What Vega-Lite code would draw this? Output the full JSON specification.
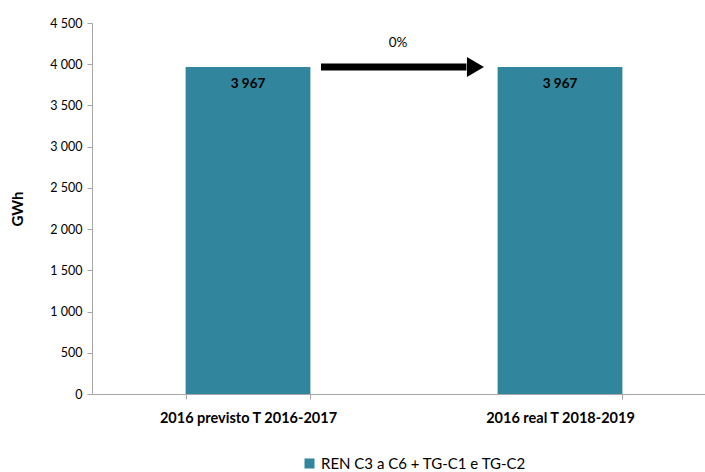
{
  "$schema": "https://vega.github.io/schema/vega-lite/v6.json",
  "autosize": "none",
  "width": 613,
  "height": 371,
  "padding": {"left": 92, "top": 23, "right": 0, "bottom": 78},
  "background": "white",
  "config": {
    "view": {"stroke": null},
    "font": "Lato",
    "locale": {"number": {"decimal": ",", "thousands": " ", "grouping": [3], "currency": ["", ""]}}
  },
  "resolve": {"scale": {"x": "independent"}, "axis": {"x": "independent"}},
  "layer": [
    {
      "data": {"values": [
        {"cat": "2016 previsto T 2016-2017", "value": 3967, "series": "REN C3 a C6 + TG-C1 e TG-C2"},
        {"cat": "2016 real T 2018-2019", "value": 3967, "series": "REN C3 a C6 + TG-C1 e TG-C2"}
      ]},
      "layer": [
        {
          "mark": {"type": "bar"},
          "encoding": {
            "x": {"field": "cat", "type": "nominal", "sort": null,
              "scale": {"range": [0, 624], "paddingInner": 0.6, "paddingOuter": 0.3},
              "axis": {"title": null, "labelAngle": 0, "labelFont": "Lato", "labelFontWeight": "bold", "labelFontSize": 14.5, "labelColor": "#000", "labelPadding": 12, "labelLimit": 0,
                "domainColor": "#a6a6a6", "tickColor": "#a6a6a6", "tickBand": "extent", "tickSize": 5, "grid": false}},
            "y": {"field": "value", "type": "quantitative",
              "scale": {"domain": [0, 4500], "nice": false},
              "axis": {"title": "GWh", "titleFont": "Lato", "titleFontWeight": "bold", "titleFontSize": 15, "titleColor": "#000", "titlePadding": 24,
                "values": [0, 500, 1000, 1500, 2000, 2500, 3000, 3500, 4000, 4500],
                "format": ",d", "labelFont": "Lato", "labelFontSize": 12.5, "labelColor": "#000", "labelPadding": 5,
                "domainColor": "#a6a6a6", "tickColor": "#a6a6a6", "tickSize": 5, "grid": false}},
            "color": {"field": "series", "type": "nominal",
              "scale": {"range": ["#31859C"]},
              "legend": {"title": null, "orient": "none", "legendX": 210, "legendY": 433, "symbolType": "square", "symbolSize": 100, "symbolStrokeWidth": 0, "labelFont": "Lato", "labelFontSize": 15, "labelColor": "#000", "labelOffset": 4, "labelLimit": 0}}
          }
        },
        {
          "mark": {"type": "text", "fontWeight": "bold", "fontSize": 13.5, "font": "Lato", "color": "#000", "baseline": "middle", "dy": 17},
          "encoding": {
            "x": {"field": "cat", "type": "nominal", "sort": null},
            "y": {"field": "value", "type": "quantitative"},
            "text": {"field": "value", "type": "quantitative", "format": ",d"}
          }
        }
      ]
    },
    {
      "data": {"values": [{"x0": 0.734, "x1": 1.2, "xh": 1.229, "y": 3967, "xt": 0.981, "yt": 4260, "label": "0%"}]},
      "layer": [
        {
          "mark": {"type": "rule", "strokeWidth": 7, "color": "#000"},
          "encoding": {
            "x": {"field": "x0", "type": "quantitative", "scale": {"domain": [0, 2], "range": [0, 624]}, "axis": null},
            "x2": {"field": "x1"},
            "y": {"field": "y", "type": "quantitative"}
          }
        },
        {
          "mark": {"type": "point", "shape": "M-0.85,-1L0.85,0L-0.85,1Z", "size": 400, "filled": true, "color": "#000", "opacity": 1},
          "encoding": {
            "x": {"field": "xh", "type": "quantitative", "scale": {"domain": [0, 2], "range": [0, 624]}, "axis": null},
            "y": {"field": "y", "type": "quantitative"}
          }
        },
        {
          "mark": {"type": "text", "fontSize": 13.5, "font": "Lato", "color": "#000", "baseline": "middle"},
          "encoding": {
            "x": {"field": "xt", "type": "quantitative", "scale": {"domain": [0, 2], "range": [0, 624]}, "axis": null},
            "y": {"field": "yt", "type": "quantitative"},
            "text": {"field": "label"}
          }
        }
      ]
    }
  ]
}
